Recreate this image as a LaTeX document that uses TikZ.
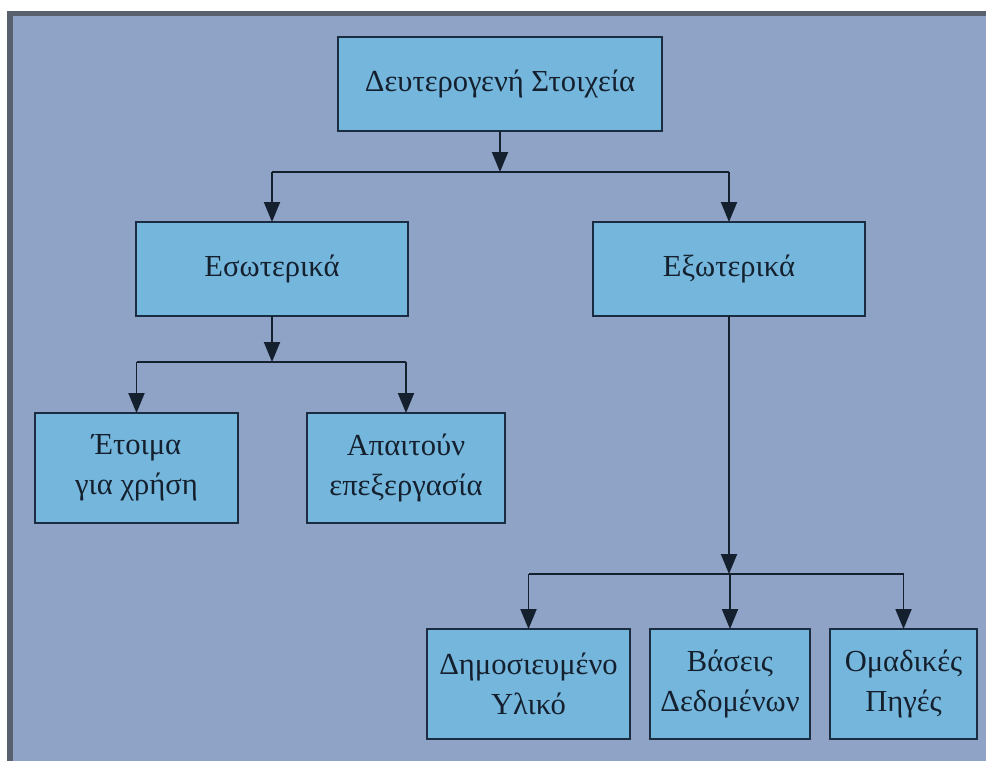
\documentclass[tikz,border=0pt]{standalone}
\usepackage{fontspec}
\setmainfont{Liberation Serif}
\usetikzlibrary{arrows.meta}
\definecolor{bgblue}{HTML}{8FA3C6}
\definecolor{boxblue}{HTML}{74B6DC}
\definecolor{boxline}{HTML}{1B2B42}
\definecolor{frameline}{HTML}{58616D}
\definecolor{inktext}{HTML}{15202E}

\begin{document}
\begin{tikzpicture}[x=0.02cm,y=-0.02cm,
  box/.style={draw=boxline,fill=boxblue,line width=1.1pt,inner sep=0pt,outer sep=0pt,
    align=center,text=inktext,font=\fontsize{17.4}{23}\selectfont},
  link/.style={draw=inktext,line width=1.1pt},
  arr/.style={link,-{Triangle[width=0.32cm,length=0.4cm]}}]
  \useasboundingbox (0,0) rectangle (986,760);
  % ---------------- background ----------------
  \fill[bgblue] (8,12) rectangle (992,766);
  \draw[frameline,line width=3pt] (10,766) -- (10,13.5) -- (992,13.5);
  % ---------------- boxes ----------------
  \node[box,minimum width=6.48cm,minimum height=1.88cm] (deut) at (500,84) {Δευτερογενή Στοιχεία};
  \node[box,minimum width=5.44cm,minimum height=1.88cm] (esw) at (272,269) {Εσωτερικά};
  \node[box,minimum width=5.44cm,minimum height=1.88cm] (exw) at (729,269) {Εξωτερικά};
  \node[box,minimum width=4.06cm,minimum height=2.2cm] (etoima) at (136.5,468) {Έτοιμα\\για χρήση};
  \node[box,minimum width=3.96cm,minimum height=2.2cm] (apait) at (406,468) {Απαιτούν\\επεξεργασία};
  \node[box,minimum width=4.06cm,minimum height=2.2cm] (dimos) at (528.5,684) {Δημοσιευμένο\\Υλικό};
  \node[box,minimum width=3.2cm,minimum height=2.2cm] (vaseis) at (730,684) {Βάσεις\\Δεδομένων};
  \node[box,minimum width=2.94cm,minimum height=2.2cm] (omad) at (903.5,684) {Ομαδικές\\Πηγές};
  % ---------------- junctions ----------------
  \coordinate (j1) at (500,172);
  \coordinate (j2) at (272,362);
  \coordinate (j3) at (729,574);
  % ---------------- connectors ----------------
  \draw[arr] (deut) -- (j1);
  \draw[link] (esw |- j1) -- (exw |- j1);
  \foreach \n in {esw,exw}
    \draw[arr] (\n |- j1) -- (\n);
  \draw[arr] (esw) -- (j2);
  \draw[link] (etoima |- j2) -- (apait |- j2);
  \foreach \n in {etoima,apait}
    \draw[arr] (\n |- j2) -- (\n);
  \draw[arr] (exw) -- (j3);
  \draw[link] (dimos |- j3) -- (omad |- j3);
  \foreach \n in {dimos,vaseis,omad}
    \draw[arr] (\n |- j3) -- (\n);
\end{tikzpicture}
\end{document}
